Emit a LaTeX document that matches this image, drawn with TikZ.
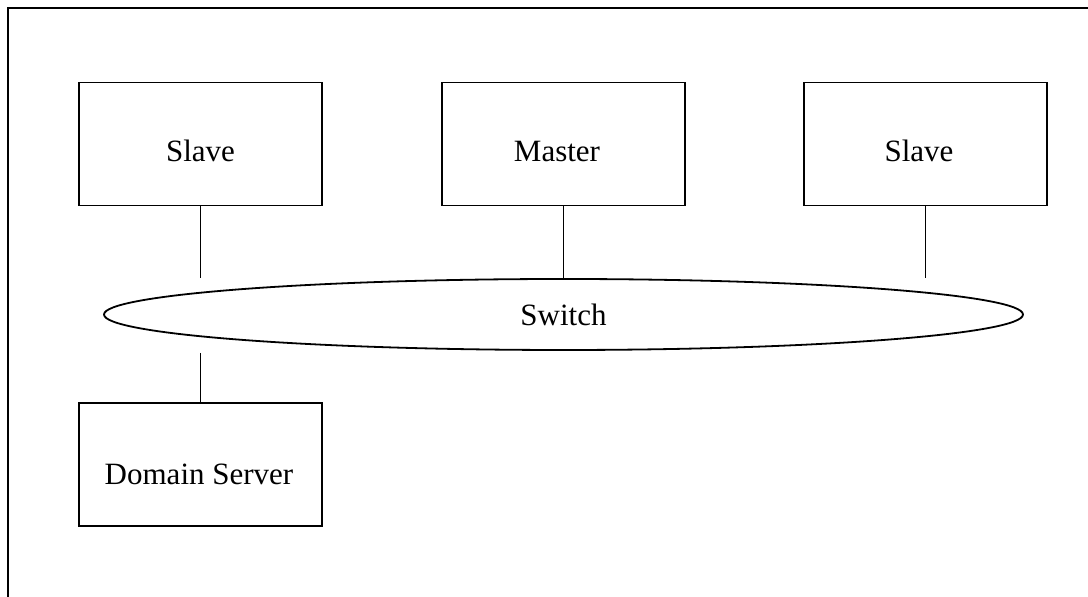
\documentclass[tikz,border=0pt]{standalone}
\usepackage{fontspec}
\setmainfont{Liberation Serif}
\usetikzlibrary{shapes.geometric}
\begin{document}
\begin{tikzpicture}[x=0.5pt,y=-0.5pt,
  box/.style={draw,line width=0.75pt,rectangle,inner sep=0pt,
    minimum width=121.5pt,minimum height=61.5pt},
  txt/.style={anchor=base,inner sep=0pt,font=\fontsize{15.5}{18}\selectfont},
  hub/.style={draw,line width=0.9pt,ellipse,inner sep=0pt,
    minimum width=459.5pt,minimum height=35.5pt,font=\fontsize{15.5}{18}\selectfont},
  link/.style={line width=0.75pt}]
\useasboundingbox (0,0) rectangle (1088,597);
% outer frame (runs off the page to the right and bottom)
\draw[line width=1.2pt] (8,620) -- (8,8) -- (1110,8);

% machines
\node[box] (slaveL) at (200.5,144) {};
\node[txt] (slaveLtxt) at (200.5,162) {Slave};
\node[box] (master) at (563.5,144) {};
\node[txt] (mastertxt) at (557,162) {Master};
\node[box] (slaveR) at (925.5,144) {};
\node[txt] (slaveRtxt) at (919,162) {Slave};
\node[box] (domain) at (200.5,464.5) {};
\node[txt] (domaintxt) at (199,485) {Domain Server};

% switch
\node[hub] (switch) at (563.5,314.5) {Switch};

% connectors
\coordinate (slaveLend) at (200.5,278);
\coordinate (slaveRend) at (925.5,278);
\coordinate (domainend) at (200.5,353);
\draw[link] (slaveL.south) -- (slaveLend);
\draw[link] (master.south) -- (switch.north);
\draw[link] (slaveR.south) -- (slaveRend);
\draw[link] (domainend) -- (domain.north);
\end{tikzpicture}
\end{document}
